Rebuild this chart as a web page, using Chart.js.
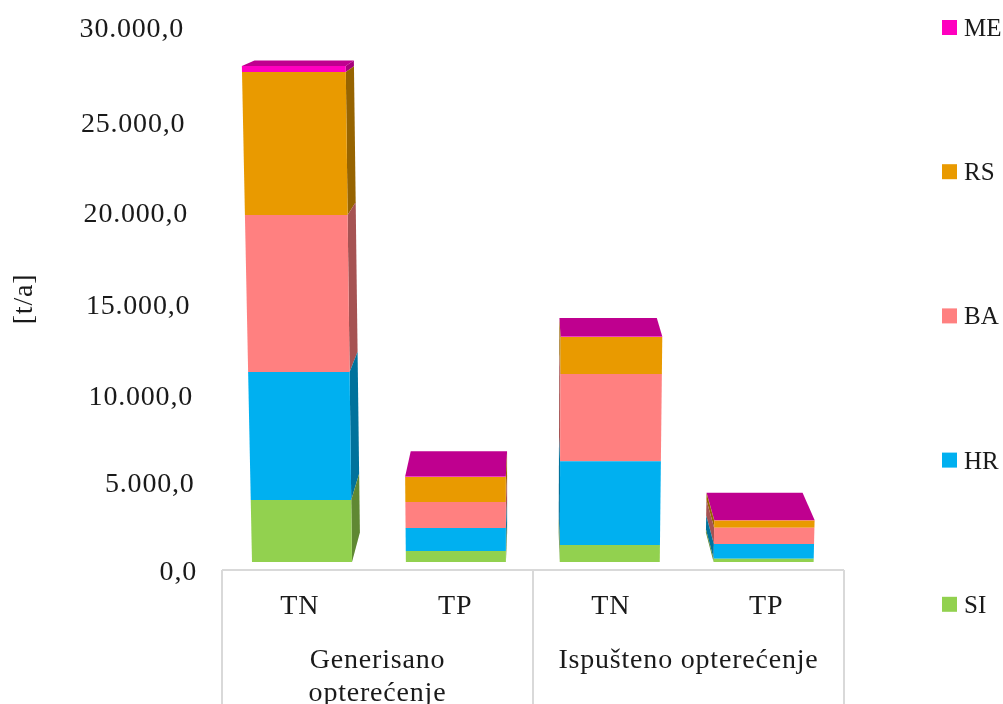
<!DOCTYPE html>
<html>
<head>
<meta charset="utf-8">
<title>Opterećenje</title>
<script src="https://cdn.jsdelivr.net/npm/chart.js@4"></script>
<style>
  html, body {margin: 0; padding: 0; background: #fff; overflow: hidden;}
  canvas {display: block;}
</style>
</head>
<body>
<canvas id="loadChart" width="1003" height="704"></canvas>
<script>
const categories = ["TN", "TP", "TN", "TP"];
const groups = [["Generisano", "opterećenje"], "Ispušteno opterećenje"];
const tickLabels = ["0,0", "5.000,0", "10.000,0", "15.000,0", "20.000,0", "25.000,0", "30.000,0"];

const seriesNames = ["SI", "HR", "BA", "RS", "ME"];
const seriesColors = ["#92d14f", "#00b0f0", "#ff8080", "#e99a00", "#ff00bf"];
const siValues = [3430, 610, 940, 180];
const hrValues = [7085, 1270, 4630, 810];
const baValues = [8690, 1440, 4830, 900];
const rsValues = [7915, 1385, 2050, 410];
const meValues = [330, 30, 30, 20];

const fontFamily = '"Liberation Serif", serif';
const textColor = "#1a1a1a";
const fontSize = 28;

// the original is an Excel 3D column chart, so labels and bars are not quite on a straight grid
const tickShiftX = [0, -2.4, -4, -6.7, -9, -11.7, -13];
const tickShiftY = [3, 5, 8, 8, 6, 6, 2];

const view = {
  lift: 8,            // front plane of the columns sits above the axis line
  centerX: 515,
  floorY: 562,
  floorScale: 0.9895,
  taper: 7.76e-5,
  vanishX: 535,
  vanishY: -50,
  depthX: 0.043,
  depthY: 0.048
};

function front(x, y) {
  const py = y - view.lift;
  const k = view.floorScale * (1 + (view.floorY - py) * view.taper);
  return [view.centerX + (x - view.centerX) * k, py];
}

function back(p) {
  return [p[0] + (view.vanishX - p[0]) * view.depthX, p[1] + (view.vanishY - p[1]) * view.depthY];
}

function shade(hex, k) {
  const n = parseInt(hex.slice(1), 16);
  const c = [n >> 16, (n >> 8) & 255, n & 255].map(v => Math.round(v * k));
  return `rgb(${c[0]},${c[1]},${c[2]})`;
}

function fillPoly(ctx, points, color) {
  ctx.beginPath();
  points.forEach((p, i) => i ? ctx.lineTo(p[0], p[1]) : ctx.moveTo(p[0], p[1]));
  ctx.closePath();
  ctx.fillStyle = color;
  ctx.fill();
}

const columns3d = {
  id: "columns3d",
  beforeDraw(chart) {
    chart.ctx.letterSpacing = "0.8px";
  },
  beforeDatasetDraw(chart, args) {
    const ctx = chart.ctx;
    const color = chart.data.datasets[args.index].backgroundColor;
    const isTop = args.index === chart.data.datasets.length - 1;
    args.meta.data.forEach(bar => {
      const half = bar.width / 2;
      const tl = front(bar.x - half, bar.y);
      const tr = front(bar.x + half, bar.y);
      const bl = front(bar.x - half, bar.base);
      const br = front(bar.x + half, bar.base);
      if (back(tr)[0] > tr[0]) fillPoly(ctx, [tr, back(tr), back(br), br], shade(color, 0.65));
      if (back(tl)[0] < tl[0]) fillPoly(ctx, [tl, back(tl), back(bl), bl], shade(color, 0.65));
      if (isTop) fillPoly(ctx, [tl, back(tl), back(tr), tr], shade(color, 0.75));
      fillPoly(ctx, [tl, tr, br, bl], color);
    });
    return false;
  }
};

const axisLines = {
  id: "axisLines",
  afterDraw(chart) {
    const ctx = chart.ctx;
    const {left, right, bottom} = chart.chartArea;
    ctx.save();
    ctx.strokeStyle = "#d9d9d9";
    ctx.lineWidth = 2;
    ctx.beginPath();
    ctx.moveTo(left, bottom);
    ctx.lineTo(right, bottom);
    [left, (left + right) / 2, right].forEach(x => {
      ctx.moveTo(x, bottom);
      ctx.lineTo(x, chart.height);
    });
    ctx.stroke();
    ctx.restore();
  }
};

const sideLegend = {
  id: "sideLegend",
  afterDraw(chart) {
    const ctx = chart.ctx;
    ctx.save();
    ctx.letterSpacing = "0px";
    ctx.font = `25px ${fontFamily}`;
    ctx.textBaseline = "middle";
    ctx.textAlign = "left";
    seriesNames.slice().reverse().forEach((name, i) => {
      const y = 27.5 + i * 144.2;
      ctx.fillStyle = seriesColors[seriesNames.length - 1 - i];
      ctx.fillRect(942, y - 7.5, 15, 15);
      ctx.fillStyle = textColor;
      ctx.fillText(name, 964, y + 2);
    });
    ctx.restore();
  }
};

const chart = new Chart(document.getElementById("loadChart"), {
  type: "bar",
  data: {
    labels: categories,
    datasets: [
      {label: seriesNames[0], data: siValues, backgroundColor: seriesColors[0]},
      {label: seriesNames[1], data: hrValues, backgroundColor: seriesColors[1]},
      {label: seriesNames[2], data: baValues, backgroundColor: seriesColors[2]},
      {label: seriesNames[3], data: rsValues, backgroundColor: seriesColors[3]},
      {label: seriesNames[4], data: meValues, backgroundColor: seriesColors[4]}
    ]
  },
  options: {
    responsive: false,
    animation: false,
    events: [],
    categoryPercentage: 1,
    barPercentage: 0.65,
    layout: {padding: {top: 28, right: 159, bottom: 0, left: 0}},
    plugins: {legend: {display: false}, tooltip: {enabled: false}},
    scales: {
      x: {
        stacked: true,
        grid: {display: false, drawTicks: false},
        border: {display: false},
        afterFit: scale => { scale.height = 65; scale.paddingLeft = 0; scale.paddingRight = 0; },
        ticks: {
          color: textColor,
          padding: 20,
          maxRotation: 0,
          autoSkip: false,
          font: {family: fontFamily, size: fontSize}
        }
      },
      x2: {
        type: "category",
        labels: groups,
        position: "bottom",
        offset: true,
        grid: {display: false, drawTicks: false},
        border: {display: false},
        afterFit: scale => { scale.height = 69; scale.paddingLeft = 0; scale.paddingRight = 0; },
        ticks: {
          color: textColor,
          padding: 9,
          maxRotation: 0,
          autoSkip: false,
          font: {family: fontFamily, size: fontSize, lineHeight: 1.18}
        }
      },
      y: {
        stacked: true,
        min: 0,
        max: 30000,
        grid: {display: false, drawTicks: false},
        border: {display: false},
        afterFit: scale => { scale.width = 222; scale.paddingTop = 0; scale.paddingBottom = 0; },
        afterBuildTicks: scale => {
          scale.ticks = tickLabels.map((label, i) => ({value: i * 5000}));
        },
        title: {
          display: true,
          text: "[t/a]",
          color: textColor,
          padding: 8,
          font: {family: fontFamily, size: fontSize}
        },
        ticks: {
          color: textColor,
          padding: 25,
          callback: (value, i) => tickLabels[i],
          font: {family: fontFamily, size: fontSize}
        }
      }
    }
  },
  plugins: [columns3d, axisLines, sideLegend]
});

// Move the value labels onto their places in the 3D picture
const yScale = chart.scales.y;
const computeLabels = yScale._computeLabelItems;
yScale._computeLabelItems = function(area) {
  const items = computeLabels.call(this, area);
  items.forEach((item, i) => {
    const [x, y] = item.options.translation;
    item.options.translation = [x + tickShiftX[i], y + tickShiftY[i]];
  });
  return items;
};
yScale._labelItems = null;
chart.draw();
</script>
</body>
</html>
